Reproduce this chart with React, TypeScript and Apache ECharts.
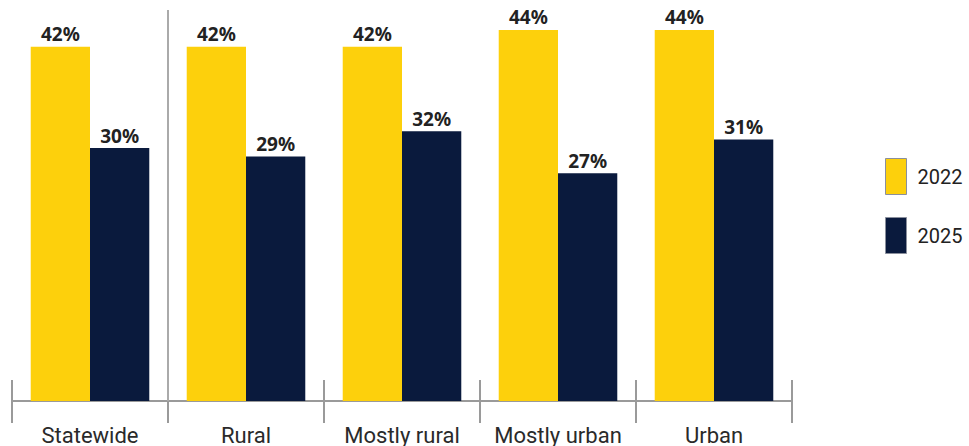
import React, { useEffect, useRef } from "react";
import * as echarts from "echarts";

const categories = ["Statewide", "Rural", "Mostly rural", "Mostly urban", "Urban"];
const seriesNames = ["2022", "2025"];
const values2022 = [42, 42, 42, 44, 44];
const values2025 = [30, 29, 32, 27, 31];
const colors = ["#FDD00C", "#0A1A3D"];
// boundary between "Statewide" and the other groups, in category-width units
const separatorAt = 1;

export default function App() {
  const ref = useRef<HTMLDivElement>(null);
  useEffect(() => {
    if (!ref.current) return;
    const chart = echarts.init(ref.current, null, { renderer: "svg" });
    const labelFont = "Roboto, sans-serif";
    const common = {
      type: "bar" as const,
      barGap: "0%",
      barCategoryGap: "24%",
      label: {
        show: true,
        position: "top" as const,
        distance: 3,
        formatter: "{c}%",
        fontFamily: "'Noto Sans', sans-serif",
        fontWeight: "bold" as const,
        fontSize: 19,
        color: "#222222",
      },
    };
    chart.setOption({
      animation: false,
      grid: { left: 12, right: 177, top: 10, bottom: 43, containLabel: false },
      legend: {
        orient: "vertical",
        left: 880,
        top: 153,
        itemWidth: 21,
        itemHeight: 36,
        itemGap: 22,
        icon: "rect",
        itemStyle: { borderColor: "#8a8f9c", borderWidth: 1 },
        textStyle: { fontFamily: labelFont, fontSize: 20, color: "#222222", padding: [0, 0, 0, 6] },
        data: seriesNames,
      },
      xAxis: [
        {
          type: "category",
          data: categories,
          position: "bottom",
          axisLine: { show: true, lineStyle: { color: "#9a9a9a", width: 2 } },
          axisTick: { show: true, interval: 0, length: 22, lineStyle: { color: "#9a9a9a", width: 2 } },
          axisLabel: { interval: 0, fontFamily: labelFont, fontSize: 22, color: "#2a2a2a", margin: 23 },
          splitLine: { show: false },
        },
        {
          type: "category",
          data: categories,
          position: "bottom",
          axisLine: { show: false },
          axisTick: { show: true, interval: 0, inside: true, length: 21, lineStyle: { color: "#9a9a9a", width: 2 } },
          axisLabel: { show: false },
          splitLine: { show: false },
        },
        {
          type: "value",
          min: 0,
          max: categories.length,
          show: false,
          splitLine: { show: false },
        },
      ],
      yAxis: { type: "value", min: 0, max: 46.37, show: false, splitLine: { show: false } },
      series: [
        { ...common, name: seriesNames[0], data: values2022, itemStyle: { color: colors[0] } },
        { ...common, name: seriesNames[1], data: values2025, itemStyle: { color: colors[1] } },
        {
          type: "line",
          name: "separator",
          xAxisIndex: 2,
          data: [],
          silent: true,
          markLine: {
            silent: true,
            symbol: "none",
            label: { show: false },
            lineStyle: { color: "#aaaaaa", width: 2, type: "solid" },
            data: [{ xAxis: separatorAt }],
          },
        },
      ],
    });
    return () => chart.dispose();
  }, []);
  return (
    <div
      ref={ref}
      style={{ position: "absolute", left: 0, top: 0, width: 969, height: 446, background: "#ffffff" }}
    />
  );
}
